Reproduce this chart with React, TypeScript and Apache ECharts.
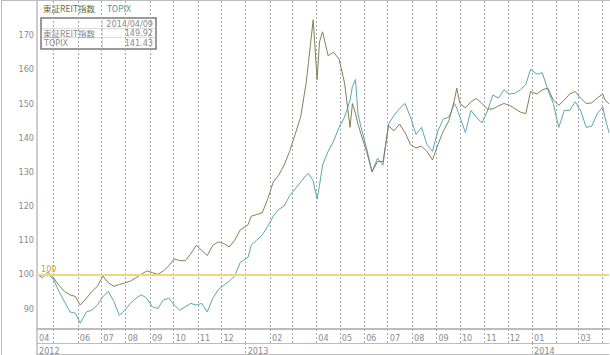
import React, { useEffect, useRef } from "react";
import * as echarts from "echarts";

// ---- data ----
const dates: string[] = [
  "2012-04-10","2012-04-17","2012-04-24","2012-05-01","2012-05-08","2012-05-15","2012-05-22","2012-05-29",
  "2012-06-04","2012-06-12","2012-06-19","2012-06-26","2012-07-03","2012-07-10","2012-07-17","2012-07-24",
  "2012-07-31","2012-08-07","2012-08-14","2012-08-21","2012-08-28","2012-09-04","2012-09-11","2012-09-18",
  "2012-09-25","2012-10-02","2012-10-09","2012-10-16","2012-10-23","2012-10-30","2012-11-06","2012-11-13",
  "2012-11-20","2012-11-27","2012-12-04","2012-12-11","2012-12-18","2012-12-25","2013-01-04","2013-01-08",
  "2013-01-15","2013-01-22","2013-01-29","2013-02-05","2013-02-12","2013-02-19","2013-02-26","2013-03-05",
  "2013-03-12","2013-03-19","2013-03-22","2013-03-28","2013-04-02","2013-04-05","2013-04-09","2013-04-16",
  "2013-04-23","2013-04-30","2013-05-07","2013-05-14","2013-05-17","2013-05-21","2013-05-24","2013-05-28",
  "2013-06-04","2013-06-11","2013-06-18","2013-06-25","2013-07-02","2013-07-09","2013-07-16","2013-07-23",
  "2013-07-30","2013-08-06","2013-08-13","2013-08-20","2013-08-27","2013-09-03","2013-09-10","2013-09-17",
  "2013-09-24","2013-09-27","2013-10-01","2013-10-08","2013-10-15","2013-10-22","2013-10-29","2013-11-05",
  "2013-11-12","2013-11-19","2013-11-26","2013-12-03","2013-12-10","2013-12-17","2013-12-24","2013-12-30",
  "2014-01-07","2014-01-14","2014-01-21","2014-01-28","2014-02-04","2014-02-11","2014-02-18","2014-02-25",
  "2014-03-04","2014-03-11","2014-03-18","2014-03-25","2014-04-01","2014-04-04","2014-04-09"
];

const reitValues: number[] = [
  100, 99, 100.6, 99, 96.8, 95, 94, 93.5,
  91, 93, 95, 96.5, 99.5, 97.5, 96.5, 97,
  97.5, 98, 99, 100, 101, 100.5, 100, 101,
  102.5, 104.5, 104, 104, 106, 108.5, 107, 105.5,
  108.5, 109.5, 109, 108, 110, 113, 114.5, 117,
  117.5, 118, 122, 127, 129, 132, 136, 141,
  146, 156, 162, 174.5, 157, 168, 171, 164,
  165, 163, 156, 143, 150, 147, 144, 141,
  136, 130, 133, 133, 143.5, 142, 144, 141.5,
  138, 137, 137.5, 136, 133.5, 138, 142, 145,
  151, 154.5, 150, 148.7, 150.5, 151.5, 150, 148.4,
  148.4, 149.3, 150, 149.5, 148.5, 147.5, 147, 153.5,
  152.8, 154, 154.5, 151, 149.5, 151, 152.8, 153.5,
  151.5, 150, 150.2, 151.6, 152.8, 151, 149.92
];

const topixValues: number[] = [
  100, 99.7, 100, 98.5, 95, 92, 89, 88.6,
  85.7, 89, 89.5, 91, 93.5, 95, 92, 88,
  89.5, 91.5, 93, 94, 93, 90.5, 90, 92.5,
  93, 91, 89.5, 90.5, 91.5, 91, 91.5, 89,
  93, 95.5, 96.8, 98, 99.5, 103.5, 105, 108.5,
  110, 111.5, 114, 117, 119, 120, 123, 125,
  127, 129, 129.5, 127.4, 122, 126, 132, 136,
  139, 143, 146, 151, 155, 157, 147, 143,
  137, 130, 134, 132, 144, 146.5, 148.5, 150,
  146, 141, 143, 138, 136, 142, 145.5, 146,
  150, 148.7, 146, 141.5, 148, 146, 144.3, 147.8,
  152.5, 151.6, 154, 152.8, 153, 154, 155.6, 160,
  158.6, 159, 154, 150, 143, 148, 148, 150.5,
  147.8, 143, 143.4, 147, 149, 145.8, 141.43
];

const seriesNames: string[] = ["東証REIT指数", "TOPIX"];
const startDate = "2012-04-10";
const endDate = "2014-04-09";
const monthTickDates: string[] = [
  "2012-05-01","2012-06-01","2012-07-01","2012-08-01","2012-09-01","2012-10-01","2012-11-01","2012-12-01",
  "2013-01-01","2013-02-01","2013-03-01","2013-04-01","2013-05-01","2013-06-01","2013-07-01","2013-08-01",
  "2013-09-01","2013-10-01","2013-11-01","2013-12-01","2014-01-01","2014-02-01","2014-03-01","2014-04-01"
];
const monthLabelDates: string[] = [
  "2012-04-10","2012-06-01","2012-07-01","2012-08-01","2012-09-01","2012-10-01","2012-11-01","2012-12-01",
  "2013-02-01","2013-04-01","2013-05-01","2013-06-01","2013-07-01","2013-08-01","2013-09-01","2013-10-01",
  "2013-11-01","2013-12-01","2014-01-01","2014-03-01"
];
const yearTickDates: string[] = ["2013-01-01", "2014-01-01"];
const yearLabelDates: string[] = ["2012-04-10", "2013-01-01", "2014-01-01"];
const yTickLabels: number[] = [90, 100, 110, 120, 130, 140, 150, 160, 170];
const baseValue = 100;
const tooltipDate = "2014/04/09";

// ---- helpers ----
const ts = (s: string) => {
  const [y, m, d] = s.split("-").map(Number);
  return Date.UTC(y, m - 1, d);
};
const pad2 = (n: number) => (n < 10 ? "0" + n : String(n));

const NUM_FONT = '"Liberation Sans Narrow", "DejaVu Sans Condensed", "Liberation Sans", sans-serif';
const JP_FONT = '"Noto Sans CJK JP", "Noto Sans", sans-serif';
const REIT_COLOR = "#828156";
const TOPIX_COLOR = "#58a7b0";
const GRID_COLOR = "#a8a8a8";
const FRAME_COLOR = "#bcbcbc";
const LABEL_COLOR = "#8a8a8a";

export default function App() {
  const ref = useRef<HTMLDivElement | null>(null);

  useEffect(() => {
    if (!ref.current) return;
    const chart = echarts.init(ref.current, undefined, { renderer: "svg" });

    const reitData = dates.map((d, i) => [ts(d), reitValues[i]]);
    const topixData = dates.map((d, i) => [ts(d), topixValues[i]]);
    const lastReit = reitValues[reitValues.length - 1];
    const lastTopix = topixValues[topixValues.length - 1];

    const xBase = {
      type: "value" as const,
      min: ts(startDate),
      max: ts(endDate),
      gridIndex: 0,
      position: "bottom" as const,
      scale: true,
    };

    const boxText = (x: number, y: number, text: string, align: string, font: string, size: number) => ({
      type: "text",
      x,
      y,
      style: { text, fill: LABEL_COLOR, fontSize: size, fontFamily: font, align, verticalAlign: "middle", lineHeight: 9 },
    });

    chart.setOption({
      animation: false,
      backgroundColor: "#ffffff",
      grid: { left: 37, right: 1, top: 1, bottom: 26, containLabel: false },
      xAxis: [
        {
          ...xBase,
          axisLine: { show: true, lineStyle: { color: FRAME_COLOR, width: 2 } },
          axisTick: {
            show: true,
            customValues: monthTickDates.map(ts),
            length: 14,
            lineStyle: { color: GRID_COLOR, type: [2, 2], width: 1 },
          },
          splitLine: {
            show: true,
            lineStyle: { color: GRID_COLOR, type: [2, 2], width: 1 },
          },
          axisLabel: {
            customValues: monthLabelDates.map(ts),
            formatter: (v: number) => pad2(new Date(v).getUTCMonth() + 1),
            align: "left",
            padding: [0, 0, 0, 2],
            margin: 4,
            color: LABEL_COLOR,
            fontSize: 9,
            fontFamily: NUM_FONT,
          },
        },
        {
          ...xBase,
          offset: 14,
          axisLine: { show: true, lineStyle: { color: FRAME_COLOR, width: 1 } },
          axisTick: {
            show: true,
            customValues: yearTickDates.map(ts),
            length: 11,
            lineStyle: { color: GRID_COLOR, type: [2, 2], width: 1 },
          },
          splitLine: { show: false },
          axisLabel: {
            customValues: yearLabelDates.map(ts),
            formatter: (v: number) => String(new Date(v).getUTCFullYear()),
            align: "left",
            padding: [0, 0, 0, 2],
            margin: 3,
            color: LABEL_COLOR,
            fontSize: 9,
            fontFamily: NUM_FONT,
          },
        },
        {
          ...xBase,
          offset: 25,
          axisLine: { show: true, lineStyle: { color: FRAME_COLOR, width: 1 } },
          axisTick: { show: false },
          splitLine: { show: false },
          axisLabel: { show: false },
        },
      ],
      yAxis: {
        type: "value",
        min: 84,
        max: 180,
        splitNumber: 10,
        axisLine: { show: true, lineStyle: { color: FRAME_COLOR, width: 1.5 } },
        axisTick: { show: false },
        splitLine: { show: false },
        axisLabel: {
          customValues: yTickLabels,
          color: LABEL_COLOR,
          fontSize: 9,
          fontFamily: NUM_FONT,
          margin: 3,
        },
      },
      series: [
        {
          name: seriesNames[1],
          type: "line",
          xAxisIndex: 0,
          data: topixData,
          showSymbol: false,
          symbol: "none",
          lineStyle: { color: TOPIX_COLOR, width: 1 },
          itemStyle: { color: TOPIX_COLOR },
          markLine: {
            silent: true,
            symbol: "none",
            data: [{ yAxis: baseValue }],
            lineStyle: { color: "#f1d67c", width: 2, type: "solid" },
            label: {
              show: true,
              position: "insideStartTop",
              formatter: String(baseValue),
              color: "#d6a300",
              fontSize: 9,
              fontFamily: NUM_FONT,
              distance: [4, 1],
            },
          },
          z: 2,
        },
        {
          name: seriesNames[0],
          type: "line",
          xAxisIndex: 0,
          data: reitData,
          showSymbol: false,
          symbol: "none",
          lineStyle: { color: REIT_COLOR, width: 1 },
          itemStyle: { color: REIT_COLOR },
          z: 3,
        },
      ],
      graphic: [
        { type: "line", silent: true, shape: { x1: 1.5, y1: 0, x2: 1.5, y2: 355 }, style: { stroke: FRAME_COLOR, lineWidth: 1 } },
        { type: "line", silent: true, shape: { x1: 1, y1: 0.5, x2: 610, y2: 0.5 }, style: { stroke: FRAME_COLOR, lineWidth: 1 } },
        { type: "line", silent: true, shape: { x1: 37, y1: 328, x2: 37, y2: 355 }, style: { stroke: FRAME_COLOR, lineWidth: 1.5 } },
        // legend texts
        {
          type: "text",
          x: 43,
          y: 8,
          style: { text: seriesNames[0], fill: "#6c6a3a", fontSize: 8.5, fontFamily: JP_FONT, align: "left", verticalAlign: "middle", lineHeight: 9 },
        },
        {
          type: "text",
          x: 107,
          y: 8,
          style: { text: seriesNames[1], fill: "#3d97a1", fontSize: 8.5, fontFamily: JP_FONT, align: "left", verticalAlign: "middle", lineHeight: 9 },
        },
        // info box
        {
          type: "group",
          x: 41,
          y: 18,
          children: [
            { type: "rect", shape: { x: 0, y: 0, width: 115, height: 31 }, style: { fill: "#ffffff", stroke: "#7a7a7a", lineWidth: 1.5 } },
            { type: "line", shape: { x1: 1, y1: 10.5, x2: 114, y2: 10.5 }, style: { stroke: "#dcdcdc", lineWidth: 1 } },
            { type: "line", shape: { x1: 1, y1: 19.5, x2: 114, y2: 19.5 }, style: { stroke: "#dcdcdc", lineWidth: 1 } },
            { type: "line", shape: { x1: 61.5, y1: 1, x2: 61.5, y2: 30 }, style: { stroke: "#dcdcdc", lineWidth: 1 } },
            boxText(112, 6, tooltipDate, "right", NUM_FONT, 9),
            boxText(2, 15, seriesNames[0], "left", JP_FONT, 8.5),
            boxText(112, 15, lastReit.toFixed(2), "right", NUM_FONT, 9),
            boxText(3, 24.5, seriesNames[1], "left", NUM_FONT, 9),
            boxText(112, 24.5, lastTopix.toFixed(2), "right", NUM_FONT, 9),
          ],
        },
      ],
    });

    return () => {
      chart.dispose();
    };
  }, []);

  return (
    <div
      ref={ref}
      style={{ position: "absolute", left: 0, top: 0, width: 610, height: 355, background: "#fff" }}
    />
  );
}
